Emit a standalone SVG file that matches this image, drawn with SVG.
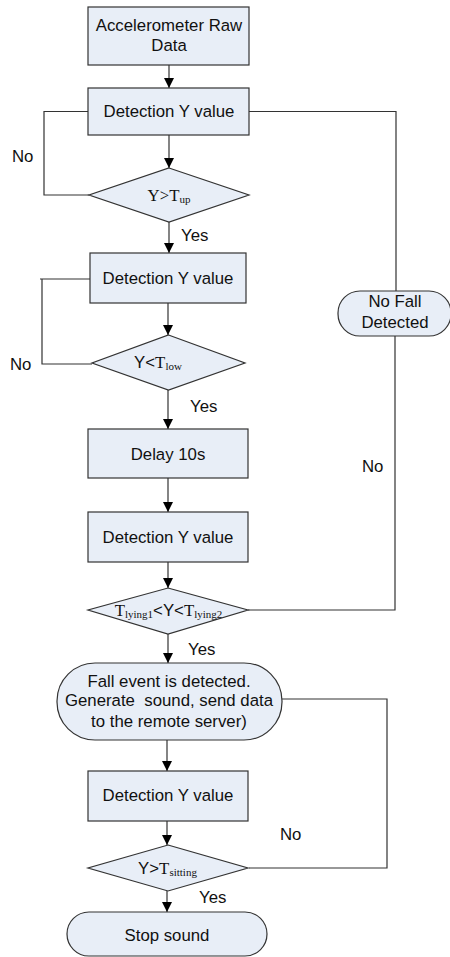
<svg xmlns="http://www.w3.org/2000/svg" width="450" height="957" viewBox="0 0 450 957">
<style>
.n{fill:#E8EEF7;stroke:#333;stroke-width:1.2}
.t{font-family:"Liberation Sans",Arial,sans-serif;font-size:16.8px;fill:#111;text-anchor:middle}
.l{font-family:"Liberation Sans",Arial,sans-serif;font-size:16.8px;fill:#111}
.s{font-family:"Liberation Serif","Times New Roman",serif}
.c{fill:none;stroke:#333;stroke-width:1.2}
</style>
<defs>
<marker id="a" markerUnits="userSpaceOnUse" markerWidth="10" markerHeight="10" refX="10" refY="5" orient="auto">
<path d="M0,0 L10,5 L0,10 z" fill="#000"/>
</marker>
</defs>
<rect width="450" height="957" fill="#fff"/>
<g id="connectors">
<path class="c" d="M169,65 V88" marker-end="url(#a)"/>
<path class="c" d="M169,135 V168" marker-end="url(#a)"/>
<path class="c" d="M88,111.5 H44 V195 H89"/>
<path class="c" d="M249,111.5 H396 V291"/>
<path class="c" d="M169,222 V253" marker-end="url(#a)"/>
<path class="c" d="M90,279 H40 M42,279 V364 H92"/>
<path class="c" d="M168,303 V335" marker-end="url(#a)"/>
<path class="c" d="M168,390 V429" marker-end="url(#a)"/>
<path class="c" d="M168,478 V512" marker-end="url(#a)"/>
<path class="c" d="M168,562 V588" marker-end="url(#a)"/>
<path class="c" d="M248,610 H395 V336"/>
<path class="c" d="M168,634 V663" marker-end="url(#a)"/>
<path class="c" d="M282,699 H387 V868 H249"/>
<path class="c" d="M167,740 V771" marker-end="url(#a)"/>
<path class="c" d="M167,821 V845" marker-end="url(#a)"/>
<path class="c" d="M167,891 V912" marker-end="url(#a)"/>
<text class="l" x="12" y="162">No</text>
<text class="l" x="10" y="370">No</text>
<text class="l" x="362" y="472">No</text>
<text class="l" x="280" y="840">No</text>
<text class="l" x="181" y="241">Yes</text>
<text class="l" x="190" y="412">Yes</text>
<text class="l" x="188" y="655">Yes</text>
<text class="l" x="199" y="903">Yes</text>
</g>
<g id="raw">
<rect class="n" x="88" y="7" width="161" height="58"/>
<text class="t" x="169" y="31">Accelerometer Raw</text>
<text class="t" x="169" y="51">Data</text>
</g>
<g id="detect1">
<rect class="n" x="88" y="88" width="161" height="47"/>
<text class="t" x="169" y="116.5">Detection Y value</text>
</g>
<g id="dec1">
<polygon class="n" points="169,168 249,195 169,222 89,195"/>
<text class="t s" x="169" y="201" font-size="17">Y&gt;T<tspan font-size="11" dy="2">up</tspan></text>
</g>
<g id="detect2">
<rect class="n" x="90" y="253" width="156" height="50"/>
<text class="t" x="168" y="283.5">Detection Y value</text>
</g>
<g id="dec2">
<polygon class="n" points="168.5,335 245,363 168.5,390 92,363"/>
<text class="t" x="158" y="368">Y&lt;<tspan class="s">T</tspan><tspan class="s" font-size="11" dy="2">low</tspan></text>
</g>
<g id="delay">
<rect class="n" x="88" y="429" width="160" height="49"/>
<text class="t" x="168" y="460">Delay 10s</text>
</g>
<g id="detect3">
<rect class="n" x="88" y="512" width="160" height="50"/>
<text class="t" x="168" y="542.5">Detection Y value</text>
</g>
<g id="dec3">
<polygon class="n" points="168,588 248,610 168,634 88,610"/>
<text class="t" x="168.5" y="616"><tspan class="s">T</tspan><tspan class="s" font-size="11" dy="2">lying1</tspan><tspan dy="-2">&lt;Y&lt;</tspan><tspan class="s">T</tspan><tspan class="s" font-size="11" dy="2">lying2</tspan></text>
</g>
<g id="nofall">
<rect class="n" x="338" y="291" width="113" height="45" rx="22" ry="22"/>
<text class="t" x="395" y="306.5">No Fall</text>
<text class="t" x="395" y="327.5">Detected</text>
</g>
<g id="fall">
<rect class="n" x="57" y="663" width="225" height="77" rx="38" ry="38"/>
<text class="t" x="169" y="686.5">Fall event is detected.</text>
<text class="t" x="169" y="706" xml:space="preserve">Generate  sound, send data</text>
<text class="t" x="169" y="726.5">to the remote server)</text>
</g>
<g id="detect4">
<rect class="n" x="88" y="771" width="160" height="50"/>
<text class="t" x="168" y="800.5">Detection Y value</text>
</g>
<g id="dec4">
<polygon class="n" points="168,845 248,868 168,891 88,868"/>
<text class="t" x="167.5" y="874">Y&gt;<tspan class="s">T</tspan><tspan class="s" font-size="11" dy="2">sitting</tspan></text>
</g>
<g id="stop">
<rect class="n" x="67" y="912" width="200" height="44" rx="22" ry="22"/>
<text class="t" x="167" y="940.5">Stop sound</text>
</g>
</svg>
